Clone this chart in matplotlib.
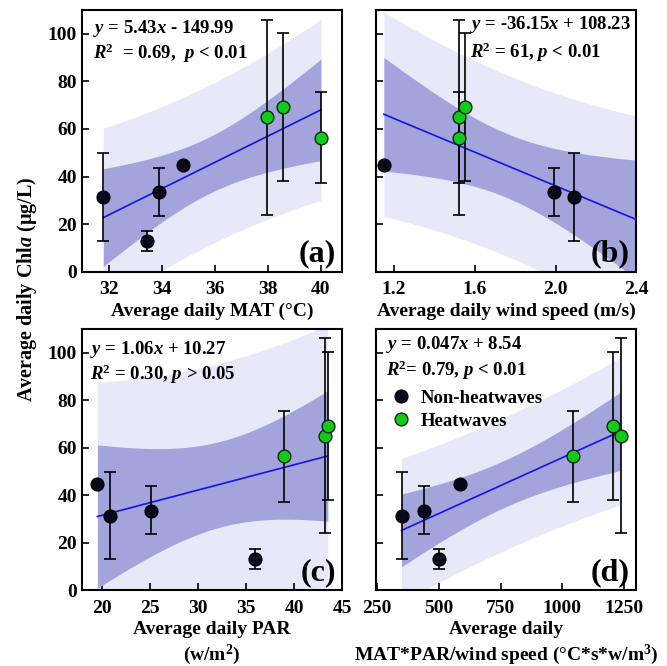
import numpy as np
import matplotlib
matplotlib.use("Agg")
import matplotlib.pyplot as plt

# Chl a for the 7 events (mean and error-bar limits)
chla = [31.3, 13.0, 33.5, 44.8, 65.0, 69.3, 56.3]
chla_lo = [13.0, 8.8, 23.5, 44.8, 24.0, 38.0, 37.2]
chla_hi = [49.7, 17.2, 43.8, 44.8, 106.0, 100.3, 75.4]
heatwave = [False, False, False, False, True, True, True]

# x values of the same events in each panel
mat = [31.8, 33.45, 33.9, 34.8, 37.96, 38.57, 40.0]
wind = [2.09, 2.47, 1.99, 1.15, 1.52, 1.55, 1.52]
par = [20.8, 35.97, 25.07, 19.5, 43.2, 43.5, 38.96]
combo = [348.6, 500.0, 439.0, 584.0, 1236.0, 1205.0, 1044.6]

eq_text = [r"$\mathbfit{y}$ = 5.43$\mathbfit{x}$ - 149.99",
           r"$\mathbfit{y}$ = -36.15$\mathbfit{x}$ + 108.23",
           r"$\mathbfit{y}$ = 1.06$\mathbfit{x}$ + 10.27",
           r"$\mathbfit{y}$ = 0.047$\mathbfit{x}$ + 8.54"]
r2_text = [r"$\mathbfit{R}^{\mathbf{2}}$  = 0.69,  $\mathbfit{p}$ < 0.01",
           r"$\mathbfit{R}^{\mathbf{2}}$ = 61, $\mathbfit{p}$ < 0.01",
           r"$\mathbfit{R}^{\mathbf{2}}$ = 0.30, $\mathbfit{p}$ > 0.05",
           r"$\mathbfit{R}^{\mathbf{2}}$= 0.79, $\mathbfit{p}$ < 0.01"]
xlabels = ["Average daily MAT (\u00b0C)",
           "Average daily wind speed (m/s)",
           "Average daily PAR\n(w/m$^\\mathbf{2}$)",
           "Average daily\nMAT*PAR/wind speed (\u00b0C*s*w/m$^\\mathbf{3}$)"]
xticks = [[32, 34, 36, 38, 40], [1.2, 1.6, 2.0, 2.4],
          [20, 25, 30, 35, 40, 45], [250, 500, 750, 1000, 1250]]
xticklabels = [["32", "34", "36", "38", "40"], ["1.2", "1.6", "2.0", "2.4"],
               ["20", "25", "30", "35", "40", "45"],
               ["250", "500", "750", "1000", "1250"]]
xlims = [(31.0, 40.8), (1.112, 2.4), (17.9, 45.0), (246, 1300)]
panel_tags = ["(a)", "(b)", "(c)", "(d)"]
eq_pos = [(0.042, 0.93, 0.836), (0.362, 0.943, 0.84),
          (0.03, 0.923, 0.828), (0.036, 0.939, 0.843)]

T_CRIT = 2.571  # t(0.975, df=5)

plt.rcParams['font.family'] = ['Liberation Serif', 'DejaVu Serif']
plt.rcParams['font.weight'] = 'bold'
plt.rcParams['mathtext.fontset'] = 'custom'
plt.rcParams['mathtext.rm'] = 'Liberation Serif:bold'
plt.rcParams['mathtext.bf'] = 'Liberation Serif:bold'
plt.rcParams['mathtext.it'] = 'Liberation Serif:italic:bold'
plt.rcParams['mathtext.bfit'] = 'Liberation Serif:italic:bold'


def fit_bands(x, y):
    '''OLS line with confidence and prediction bands'''
    x = np.asarray(x)
    y = np.asarray(y)
    n = len(x)
    b, a = np.polyfit(x, y, 1)
    xs = np.linspace(x.min(), x.max(), 200)
    yhat = a + b * xs
    s = np.sqrt(np.sum((y - (a + b * x)) ** 2) / (n - 2))
    sxx = np.sum((x - x.mean()) ** 2)
    d = (xs - x.mean()) ** 2 / sxx
    ci = T_CRIT * s * np.sqrt(1.0 / n + d)
    pi = T_CRIT * s * np.sqrt(1 + 1.0 / n + d)
    return xs, yhat, ci, pi


fig = plt.figure(figsize=(6.67, 6.66), dpi=100)
positions = [[0.123, 0.592, 0.390, 0.393], [0.564, 0.592, 0.390, 0.393],
             [0.123, 0.114, 0.390, 0.392], [0.564, 0.114, 0.390, 0.392]]

y = np.array(chla)
lo = y - np.array(chla_lo)
hi = np.array(chla_hi) - y
hw = np.array(heatwave)

for i, xvals in enumerate([mat, wind, par, combo]):
    ax = fig.add_axes(positions[i])
    x = np.array(xvals)
    xs, yhat, ci, pi = fit_bands(x, y)
    ax.fill_between(xs, yhat - pi, yhat + pi, color='#e7e8f8', lw=0, zorder=1)
    ax.fill_between(xs, yhat - ci, yhat + ci, color='#a2a4db', lw=0, zorder=2)
    ax.plot(xs, yhat, color='#1414e6', lw=1.2, zorder=3)

    ax.errorbar(x, y, yerr=[lo, hi], fmt='none', ecolor='black',
                elinewidth=1.2, capsize=4, capthick=1.2, zorder=4)
    ax.plot(x[~hw], y[~hw], 'o', ms=9.2, mfc='#07071c', mec='black',
            mew=1.0, zorder=5, label='Non-heatwaves')
    ax.plot(x[hw], y[hw], 'o', ms=9.2, mfc='#14c81e', mec='#0a2a0a',
            mew=1.0, zorder=5, label='Heatwaves')

    ax.set_xlim(*xlims[i])
    ax.set_ylim(0, 110)
    ax.set_xticks(xticks[i])
    ax.set_xticklabels(xticklabels[i])
    ax.set_yticks([0, 20, 40, 60, 80, 100])
    if i % 2 == 1:
        ax.set_yticklabels([])
    ax.tick_params(direction='in', length=5, width=1.2, labelsize=14)
    ax.tick_params(axis='x', pad=7)
    for sp in ax.spines.values():
        sp.set_linewidth(1.5)
    ax.set_xlabel(xlabels[i], fontsize=14, fontweight='bold', labelpad=3,
                  linespacing=1.25)

    px, py1, py2 = eq_pos[i]
    ax.text(px, py1, eq_text[i], transform=ax.transAxes, fontsize=13.5,
            va='center', ha='left', zorder=6)
    ax.text(px, py2, r2_text[i], transform=ax.transAxes, fontsize=13.5,
            va='center', ha='left', zorder=6)
    ax.text(0.975, 0.012, panel_tags[i], transform=ax.transAxes, fontsize=23,
            fontweight='bold', ha='right', va='bottom', zorder=6)

    if i == 3:
        ax.legend(loc='upper left', bbox_to_anchor=(0.0, 0.817), frameon=False,
                  fontsize=13.5, handletextpad=0.5, borderpad=0.2,
                  labelspacing=0.3, handlelength=1.2)

fig.text(0.04, 0.565, "Average daily Chl$\\mathbfit{a}$ (\u03bcg/L)",
         rotation=90, fontsize=14.5, fontweight='bold', ha='center', va='center')

fig.savefig("out.png", dpi=100)
